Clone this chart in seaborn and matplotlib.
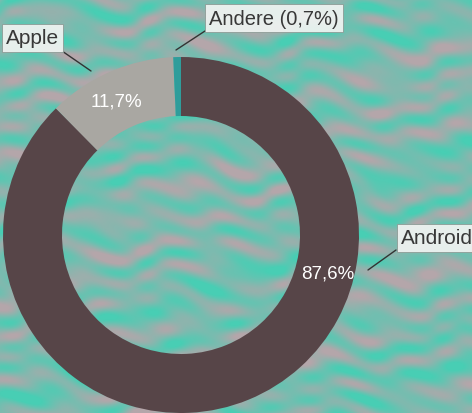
import numpy as np
import matplotlib
matplotlib.use("Agg")
import matplotlib.pyplot as plt
import seaborn as sns

# Data
labels = ["Android", "Apple", "Andere"]
shares = [87.6, 11.7, 0.7]
pct_text = ["87,6%", "11,7%", "0,7%"]
colors = ["#574548", "#a9a7a2", "#2f9d9b"]

sns.set_theme(style="white")
plt.rcParams["font.family"] = ["Liberation Sans", "DejaVu Sans"]

W, H = 472, 414
fig = plt.figure(figsize=(W / 100, H / 100), dpi=100)
ax = fig.add_axes([0, 0, 1, 1])

# mottled water-like background (deterministic)
yy, xx = np.mgrid[0:H, 0:W].astype(float)
warp = 5 * np.sin(xx / 31.0 + yy / 19.0) + 3 * np.sin(xx / 11.0 - yy / 37.0)
f = (np.sin((yy + warp) / 4.5 + np.sin(xx / 23.0) * 1.6)
     + 0.7 * np.sin(xx / 19.0 + (yy + warp) / 7.0)
     + 0.5 * np.sin(xx / 9.0 - yy / 3.7)
     + 0.4 * np.sin(xx / 53.0 + yy / 29.0))
t = np.clip(0.5 + f / 4.0, 0, 1)[..., None]
teal = np.array([72, 206, 180]) / 255
pink = np.array([180, 166, 170]) / 255
bg = pink * (1 - t) + teal * t
ax.imshow(bg, extent=[0, W, 0, H], origin="upper", zorder=0, interpolation="bilinear")

cx, cy, r = 181, H - 236, 178
ring = 59
wedges, _ = ax.pie(shares, colors=colors, startangle=90, counterclock=False,
                   center=(cx, cy), radius=r, frame=True,
                   wedgeprops=dict(width=ring, edgecolor="none"))
for w in wedges:
    w.set_zorder(2)
ax.set_xlim(0, W)
ax.set_ylim(0, H)
ax.set_aspect("equal")
ax.axis("off")

mid_r = r - ring / 2
# Apple percentage at wedge middle, Android percentage on the right side
w = wedges[1]
ang = np.deg2rad((w.theta1 + w.theta2) / 2 + 2)
ax.text(cx + mid_r * np.cos(ang), cy + mid_r * np.sin(ang), pct_text[1],
        color="white", fontsize=13.5, ha="center", va="center", zorder=3)
ang = np.deg2rad(-15)
ax.text(cx + mid_r * np.cos(ang) + 3, cy + mid_r * np.sin(ang), pct_text[0],
        color="white", fontsize=13.5, ha="center", va="center", zorder=3)

box = dict(boxstyle="square,pad=0.2", facecolor="#eef2f0", edgecolor="#8a9893",
           linewidth=0.6, alpha=0.95)
txt = "#383838"

# Apple label
ax.plot([62, 91], [H - 52, H - 72], color="#333333", lw=1, zorder=3)
ax.text(6, H - 39, labels[1], fontsize=15, color=txt, ha="left", va="center",
        bbox=box, zorder=4)

# Andere label
ax.plot([205, 176], [H - 32, H - 51], color="#333333", lw=1, zorder=3)
ax.text(209, H - 19, f"{labels[2]} ({pct_text[2]})", fontsize=14.5, color=txt,
        ha="left", va="center", bbox=box, zorder=4)

# Android label
ax.plot([396, 368], [H - 251, H - 271], color="#333333", lw=1, zorder=3)
ax.text(401, H - 239, labels[0], fontsize=15, color=txt, ha="left", va="center",
        bbox=box, zorder=4)

fig.savefig("out.png", dpi=100)
